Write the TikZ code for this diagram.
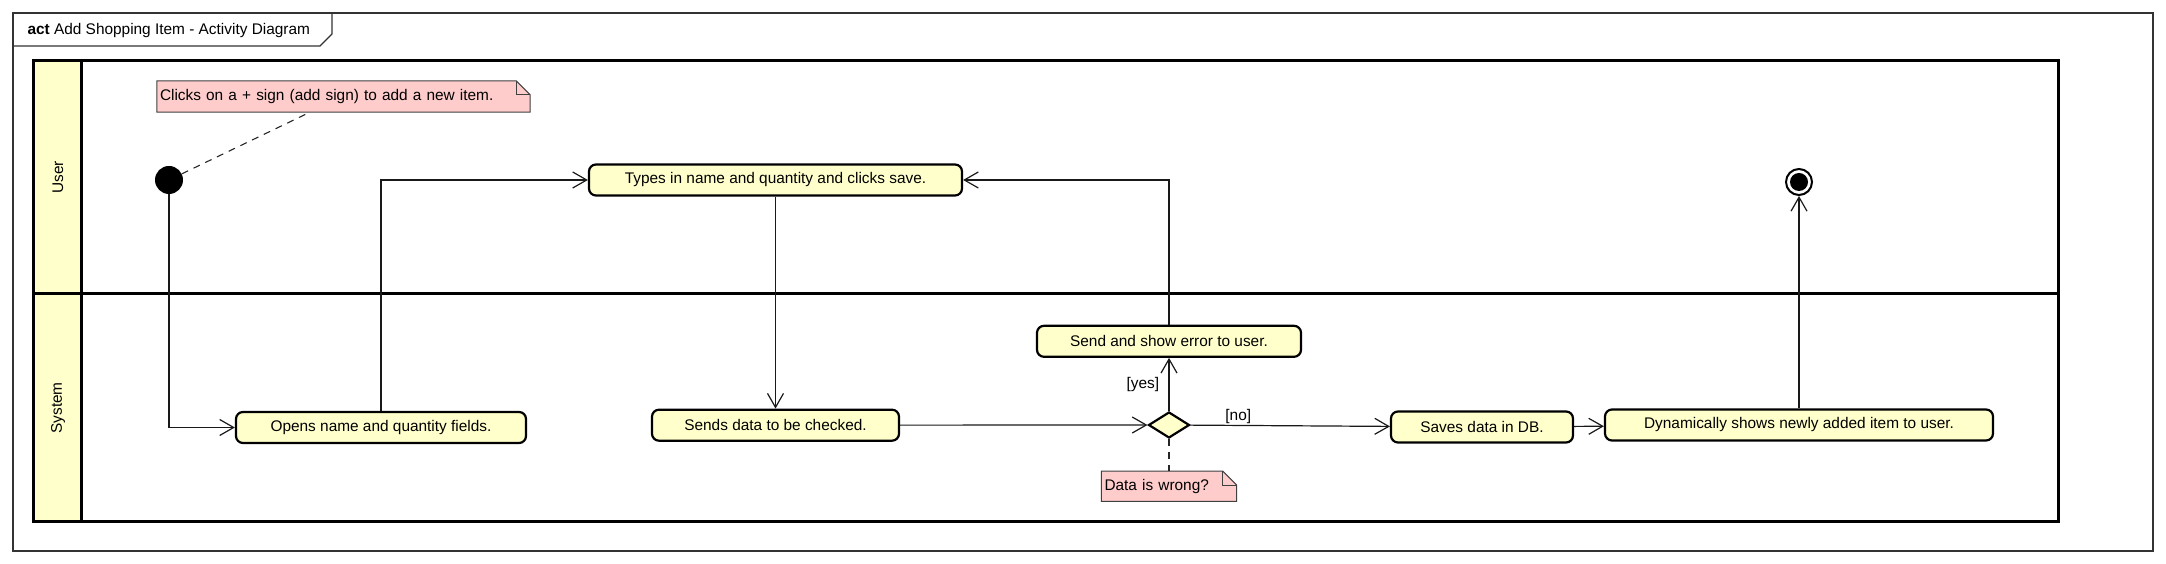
\documentclass[tikz,border=0pt]{standalone}
\usepackage{fontspec}
\setmainfont{Liberation Sans}
\usetikzlibrary{shapes.geometric, arrows.meta, positioning, backgrounds}
\definecolor{actfill}{RGB}{255,255,204}
\definecolor{notefill}{RGB}{255,204,204}
\tikzset{
x=1pt, y=1pt,
>={Straight Barb[length=14pt,width=16pt]}, % open arrow heads
every node/.style={font=\fontsize{15.4}{18}\selectfont},
frame/.style={draw=black!80, line width=1.2pt},
lane/.style={draw=black, line width=3pt},
activity/.style={draw, line width=2.2pt, rounded corners=7pt, fill=actfill, minimum height=31pt, inner sep=0pt},
decision/.style={diamond, draw, line width=2.2pt, fill=actfill, minimum width=41pt, minimum height=26pt, inner sep=0pt},
startdot/.style={circle, fill=black, minimum size=28pt, inner sep=0pt},
enddot/.style={circle, draw, line width=2pt, fill=white, minimum size=26pt, inner sep=0pt,
  path picture={\fill[black] (path picture bounding box.center) circle (9pt);}},
note/.style={inner xsep=3pt, inner ysep=0pt, align=left},
notebg/.style={draw=black!75, line width=1pt, fill=notefill},
flow/.style={->, draw=black!90, line width=1.2pt},
link/.style={dashed, dash pattern=on 7pt off 6pt, draw=black!85, line width=1.1pt},
}
% folded corner behind a note
\newcommand{\notefold}[1]{%
  \begin{pgfonlayer}{background}
    \filldraw[notebg] (#1.south west) -- (#1.north west) -- ([xshift=-14pt]#1.north east)
      -- ([yshift=-14pt]#1.north east) -- (#1.south east) -- cycle;
    \draw[notebg, fill=none] ([xshift=-14pt]#1.north east) |- ([yshift=-14pt]#1.north east);
  \end{pgfonlayer}}

\begin{document}
\begin{tikzpicture}
    \useasboundingbox (0,0) rectangle (2166,564);
    % Frame
    \draw[frame] (13,13) rectangle (2153,551);
    \draw[frame] (13,518) -- (320,518) -- (332,530) -- (332,551);
    \node[anchor=west] (title) at (24,533) {\textbf{act} Add Shopping Item - Activity Diagram};

    % Swimlanes
    \filldraw[lane, fill=actfill] (33,42) rectangle (81,503);
    \draw[lane] (33,42) rectangle (2058,503);
    \draw[lane] (33,270) -- (2058,270);
    \node[rotate=90] (user) at (58,386.5) {User};
    \node[rotate=90] (system) at (58,156) {System};

    % User lane
    \node[startdot] (start) at (169,384) {};
    \node[note, text width=367pt, minimum height=31pt] (clicknote) at (343.5,467.5) {Clicks on a + sign (add sign) to add a new item.};
    \notefold{clicknote}
    \node[activity, minimum width=373pt] (types) at (775.5,384) {Types in name and quantity and clicks save.};
    \node[enddot] (end) at (1799,382) {};

    % System lane
    \node[activity, minimum width=290pt] (opens) at (381,136.5) {Opens name and quantity fields.};
    \node[activity, minimum width=247pt, below=212pt of types] (sends) {Sends data to be checked.};
    \node[decision] (check) at (1169,139) {};
    \node[activity, minimum width=264pt, above=53pt of check] (error) {Send and show error to user.};
    \node[note, text width=129pt, minimum height=30pt, below=32pt of check] (checknote) {Data is wrong?};
    \notefold{checknote}
    \node[activity, minimum width=182pt] (saves) at (1482,137) {Saves data in DB.};
    \node[activity, minimum width=388pt] (dyn) at (1799,139) {Dynamically shows newly added item to user.};

    \draw[flow] (start) |- (opens);
    \draw[flow] (opens) |- (types);
    \draw[flow] (types) -- (sends);
    \draw[flow] (sends) -- (check);
    \draw[flow] (check) -- node[left=6pt] {[yes]} (error);
    \draw[flow] (error) |- (types);
    \draw[flow] (check) -- node[above, pos=0.24, inner sep=1pt] {[no]} (saves);
    \draw[flow] (saves) -- (dyn);
    \draw[flow] (dyn) -- (end);
    \draw[link] (start) -- ([xshift=-33.5pt]clicknote.south);
    \draw[link] (check) -- (checknote);
\end{tikzpicture}
\end{document}
